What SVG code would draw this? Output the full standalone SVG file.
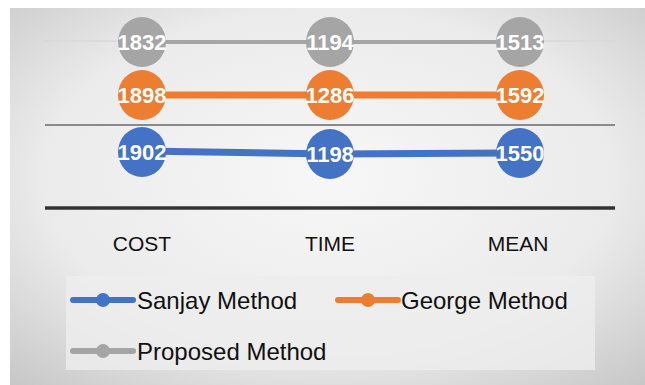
<svg xmlns="http://www.w3.org/2000/svg" width="645" height="385" viewBox="0 0 645 385">
  <defs>
    <radialGradient id="panelBg" cx="0.5" cy="0.45" r="0.75">
      <stop offset="0" stop-color="#f7f7f7"/>
      <stop offset="0.6" stop-color="#ebebeb"/>
      <stop offset="1" stop-color="#c6c6c6"/>
    </radialGradient>
    <style>
      .val { font-family: "Liberation Sans", Arial, sans-serif; font-weight: bold; font-size: 22px; fill: #ffffff; text-anchor: middle; }
      .cat { font-family: "Liberation Sans", Arial, sans-serif; font-size: 21px; fill: #111111; text-anchor: middle; }
      .leg { font-family: "Liberation Sans", Arial, sans-serif; font-size: 24px; fill: #111111; }
      .blue { fill: #4472c4; }
      .orange { fill: #ed7d31; }
      .gray { fill: #a5a5a5; }
    </style>
  </defs>

  <!-- chart area background -->
  <rect x="0" y="0" width="645" height="385" fill="#ffffff"/>
  <rect x="10" y="8" width="635" height="377" fill="url(#panelBg)"/>

  <!-- gridlines and axis -->
  <g id="grid">
    <line x1="45" y1="41" x2="615" y2="41" stroke="#d8d8d8" stroke-width="1.5"/>
    <line x1="45" y1="125" x2="615" y2="125" stroke="#8a8a8a" stroke-width="2"/>
    <line x1="45" y1="208" x2="615" y2="208" stroke="#333333" stroke-width="3.5"/>
  </g>

  <!-- series lines -->
  <g id="connectors">
    <polyline points="142,42 330,42 520,42" fill="none" stroke="#a5a5a5" stroke-width="4"/>
    <polyline points="142,95 330,95 520,95" fill="none" stroke="#ed7d31" stroke-width="7"/>
    <polyline points="142,151 330,154 520,153" fill="none" stroke="#4472c4" stroke-width="7"/>
  </g>

  <!-- Proposed Method points -->
  <g id="proposed-cost"><ellipse class="gray" cx="142" cy="42" rx="24" ry="25"/><text class="val" x="142" y="50">1832</text></g>
  <g id="proposed-time"><ellipse class="gray" cx="330" cy="42" rx="24" ry="25"/><text class="val" x="330" y="50">1194</text></g>
  <g id="proposed-mean"><ellipse class="gray" cx="520" cy="42" rx="24" ry="25"/><text class="val" x="520" y="50">1513</text></g>

  <!-- George Method points -->
  <g id="george-cost"><ellipse class="orange" cx="142" cy="95" rx="24" ry="25"/><text class="val" x="142" y="103">1898</text></g>
  <g id="george-time"><ellipse class="orange" cx="330" cy="95" rx="24" ry="25"/><text class="val" x="330" y="103">1286</text></g>
  <g id="george-mean"><ellipse class="orange" cx="520" cy="95" rx="24" ry="25"/><text class="val" x="520" y="103">1592</text></g>

  <!-- Sanjay Method points -->
  <g id="sanjay-cost"><ellipse class="blue" cx="142" cy="152" rx="24" ry="25"/><text class="val" x="142" y="160">1902</text></g>
  <g id="sanjay-time"><ellipse class="blue" cx="330" cy="154" rx="24" ry="25"/><text class="val" x="330" y="162">1198</text></g>
  <g id="sanjay-mean"><ellipse class="blue" cx="520" cy="153" rx="24" ry="25"/><text class="val" x="520" y="161">1550</text></g>

  <!-- category axis labels -->
  <g id="categories">
    <text class="cat" x="142" y="251">COST</text>
    <text class="cat" x="330" y="251">TIME</text>
    <text class="cat" x="518" y="251">MEAN</text>
  </g>

  <!-- legend -->
  <g id="legend">
    <rect x="66" y="276" width="529" height="94" fill="#ededed" opacity="0.8"/>
    <g id="legend-sanjay">
      <line x1="73" y1="300" x2="133" y2="300" stroke="#4472c4" stroke-width="6" stroke-linecap="round"/>
      <circle cx="103" cy="300" r="7" fill="#4472c4"/>
      <text class="leg" x="137" y="309">Sanjay Method</text>
    </g>
    <g id="legend-george">
      <line x1="338" y1="300" x2="398" y2="300" stroke="#ed7d31" stroke-width="6" stroke-linecap="round"/>
      <circle cx="368" cy="300" r="7" fill="#ed7d31"/>
      <text class="leg" x="401" y="309">George Method</text>
    </g>
    <g id="legend-proposed">
      <line x1="73" y1="351" x2="133" y2="351" stroke="#a5a5a5" stroke-width="6" stroke-linecap="round"/>
      <circle cx="103" cy="351" r="7" fill="#a5a5a5"/>
      <text class="leg" x="137" y="360">Proposed Method</text>
    </g>
  </g>
</svg>
